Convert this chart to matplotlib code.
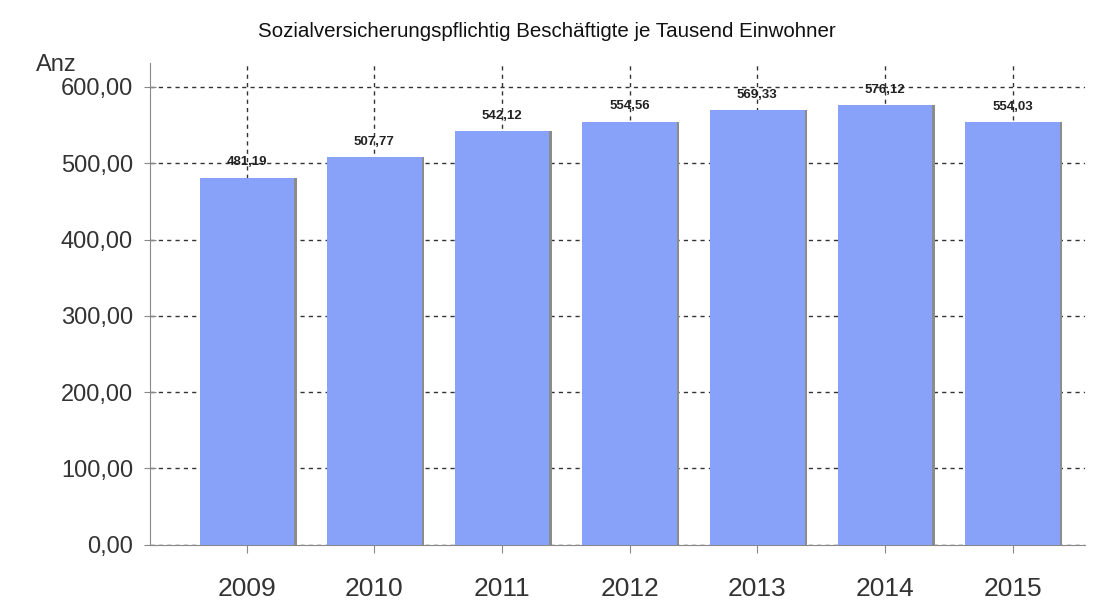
import matplotlib
matplotlib.use("Agg")
import matplotlib.pyplot as plt
import numpy as np

# data
years = ["2009", "2010", "2011", "2012", "2013", "2014", "2015"]
values = [481.19, 507.77, 542.12, 554.56, 569.33, 576.12, 554.03]
value_labels = ["481,19", "507,77", "542,12", "554,56", "569,33", "576,12", "554,03"]
y_ticks = [0, 100, 200, 300, 400, 500, 600]
y_tick_labels = ["0,00", "100,00", "200,00", "300,00", "400,00", "500,00", "600,00"]

plt.rcParams['font.family'] = ['Liberation Sans', 'DejaVu Sans']

bar_color = "#87a2f8"

fig = plt.figure(figsize=(10.93, 6.04), dpi=100)
ax = fig.add_axes([0.137, 0.098, 0.856, 0.798])

x = np.arange(len(years))
# grid behind bars
ax.set_axisbelow(True)
ax.grid(True, which="major", axis="both", color="#333333", linestyle=(0, (3, 3)), linewidth=1.0)

# drop shadow, then bars
ax.bar(x + 0.02, values, width=0.74, color="#8c8c8c", zorder=2)
ax.bar(x, values, width=0.74, color=bar_color, zorder=3)

for xi, v, lab in zip(x, values, value_labels):
    ax.text(xi, v + 12, lab, ha="center", va="bottom", fontsize=9.5,
            fontweight="bold", color="#222222", zorder=4)

ax.set_xlim(-0.76, 6.57)
ax.set_ylim(0, 631.5)
ax.set_xticks(x)
ax.set_xticklabels(years, fontsize=19, color="#333333")
ax.set_yticks(y_ticks)
ax.set_yticklabels(y_tick_labels, fontsize=17, color="#333333")

for side in ["top", "right"]:
    ax.spines[side].set_visible(False)
ax.spines["left"].set_color("#888888")
ax.spines["bottom"].set_color("#888888")
ax.tick_params(axis="y", direction="inout", length=8, color="#888888", pad=8)
ax.tick_params(axis="x", direction="out", length=6, color="#888888", pad=17)

fig.text(0.5, 0.948, "Sozialversicherungspflichtig Beschäftigte je Tausend Einwohner",
         ha="center", va="center", fontsize=14.8, color="#111111")
fig.text(0.033, 0.893, "Anz", ha="left", va="center", fontsize=17, color="#333333")

fig.savefig("out.png", dpi=100)
